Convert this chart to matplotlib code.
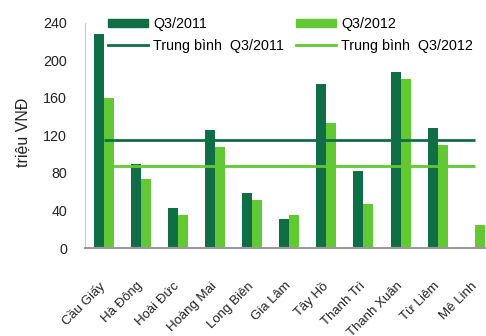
import matplotlib
matplotlib.use("Agg")
import matplotlib.pyplot as plt
import numpy as np
from matplotlib.patches import Patch
from matplotlib.lines import Line2D

plt.rcParams['font.family'] = ['Liberation Sans', 'DejaVu Sans']

districts = ["Cầu Giấy", "Hà Đông", "Hoài Đức", "Hoàng Mai", "Long Biên", "Gia Lâm",
             "Tây Hồ", "Thanh Trì", "Thanh Xuân", "Từ Liêm", "Mê Linh"]
q3_2011 = [228, 90, 43, 126, 59, 31, 175, 82, 188, 128, 0]
q3_2012 = [160, 74, 35, 108, 51, 35, 133, 47, 180, 110, 24]
avg_2011 = 115
avg_2012 = 87
yticks = [0, 40, 80, 120, 160, 200, 240]

dark = '#0f6e46'
light = '#62c934'

fig = plt.figure(figsize=(4.86, 3.36), dpi=100)
ax = fig.add_axes([85/486, 88/336, (493.4-85)/486, (248-22.7)/336])

x = np.arange(len(districts))
w = 0.27
ax.bar(x - w/2, q3_2011, width=w, color=dark, zorder=2)
ax.bar(x + w/2, q3_2012, width=w, color=light, zorder=2)
ax.hlines(avg_2011, x[0], x[-1], color=dark, lw=2, zorder=3)
ax.hlines(avg_2012, x[0], x[-1], color=light, lw=2, zorder=3)

ax.set_xlim(-0.5, len(districts) - 0.5)
ax.set_ylim(0, 240)
ax.set_yticks(yticks)
ax.set_yticklabels([str(v) for v in yticks], fontsize=10.3, color='#222222')
ax.set_xticks(x)
ax.set_xticklabels(districts, rotation=45, ha='right', va='center',
                   rotation_mode='anchor', fontsize=9.5, color='#222222')
ax.tick_params(axis='y', length=0, pad=13)
ax.tick_params(axis='x', length=0, pad=26)

for s in ['top', 'right']:
    ax.spines[s].set_visible(False)
ax.spines['left'].set_color('#c8c8c8')
ax.spines['bottom'].set_color('#9a9a9a')
ax.spines['bottom'].set_linewidth(1.5)

fig.text(23/486, 1 - 132.5/336, "triệu VNĐ", rotation=90, ha='center', va='center',
         fontsize=11.5, color='#222222')

handles = [Patch(color=dark), Line2D([], [], color=dark, lw=2),
           Patch(color=light), Line2D([], [], color=light, lw=2)]
labels = ["Q3/2011", "Trung bình  Q3/2011", "Q3/2012", "Trung bình  Q3/2012"]
ax.legend(handles, labels, ncol=2, loc='upper left', frameon=False,
          bbox_to_anchor=(108/486, 1 - 17/336), bbox_transform=fig.transFigure,
          borderaxespad=0, borderpad=0, fontsize=10.3, handlelength=2.8,
          handleheight=0.55, handletextpad=0.35, columnspacing=0.84,
          labelspacing=0.55)

fig.savefig("out.png", dpi=100)
